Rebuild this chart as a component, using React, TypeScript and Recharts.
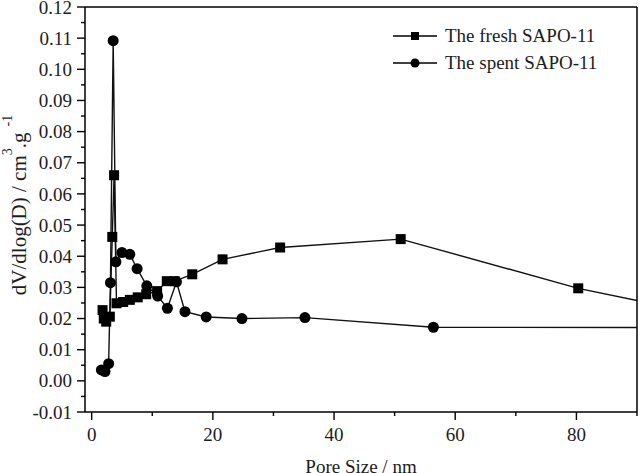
import { LineChart, Line, XAxis, YAxis, ReferenceLine, Legend } from "recharts";

// pore size distribution, fresh vs spent catalyst
const freshSize = [1.8, 2.0, 2.4, 3.0, 3.4, 3.7, 4.1, 5.2, 6.3, 7.6, 9.0, 10.8, 12.4, 13.7, 16.6, 21.6, 31.1, 51.0, 80.3, 100];
const freshVolume = [0.0227, 0.02, 0.019, 0.0206, 0.0462, 0.066, 0.0249, 0.0253, 0.026, 0.0268, 0.0278, 0.0288, 0.032, 0.032, 0.0342, 0.039, 0.0428, 0.0455, 0.0297, 0.0218];

const spentSize = [1.6, 2.2, 2.8, 3.1, 3.55, 4.0, 5.0, 6.3, 7.5, 9.1, 10.9, 12.5, 14.0, 15.4, 18.9, 24.8, 35.2, 56.4, 100];
const spentVolume = [0.0035, 0.003, 0.0055, 0.0315, 0.1092, 0.0382, 0.0412, 0.0406, 0.036, 0.0305, 0.0272, 0.0233, 0.0318, 0.0222, 0.0205, 0.02, 0.0203, 0.0172, 0.0171];

const xMajorTicks = [0, 20, 40, 60, 80];
const xMinorTicks = [10, 30, 50, 70, 90];
const yMajorTicks = [-0.01, 0, 0.01, 0.02, 0.03, 0.04, 0.05, 0.06, 0.07, 0.08, 0.09, 0.1, 0.11, 0.12];
const yMinorTicks = [-0.005, 0.005, 0.015, 0.025, 0.035, 0.045, 0.055, 0.065, 0.075, 0.085, 0.095, 0.105, 0.115];

const seriesNames = ["The fresh SAPO-11", "The spent SAPO-11"];

const freshData = freshSize.map((size, i) => ({ size, volume: freshVolume[i] }));
const spentData = spentSize.map((size, i) => ({ size, volume: spentVolume[i] }));

const FONT = '"Liberation Serif", "Times New Roman", serif';
const TEXT = "#1c1c1c";

const isMajor = (list: number[], v: number) => list.some((m) => Math.abs(m - v) < 1e-9);

function XTick(props: any) {
  const { x, y, payload } = props;
  const major = isMajor(xMajorTicks, payload.value);
  return (
    <g>
      <line x1={x} x2={x} y1={y} y2={y + (major ? 8 : 4)} stroke="#000" strokeWidth={1.4} />
      {major && (
        <text x={x} y={y + 29} textAnchor="middle" fontFamily={FONT} fontSize={19} fill={TEXT}>
          {payload.value}
        </text>
      )}
    </g>
  );
}

function YTick(props: any) {
  const { x, y, payload } = props;
  const major = isMajor(yMajorTicks, payload.value);
  return (
    <g>
      <line x1={x} x2={x - (major ? 8 : 4)} y1={y} y2={y} stroke="#000" strokeWidth={1.4} />
      {major && (
        <text x={x - 13} y={y} dy="0.35em" textAnchor="end" fontFamily={FONT} fontSize={19} fill={TEXT}>
          {payload.value.toFixed(2)}
        </text>
      )}
    </g>
  );
}

function YTitle() {
  return (
    <text transform="translate(26, 205) rotate(-90)" textAnchor="middle" fontFamily={FONT} fontSize={21} fill={TEXT}>
      dV/dlog(D) / cm
      <tspan dy={-14} fontSize={14}>3</tspan>
      <tspan dy={14}>.g</tspan>
      <tspan dy={-14} fontSize={14} dx={6}>-1</tspan>
    </text>
  );
}

function XTitle(props: any) {
  const vb = props.viewBox || { x: 85, width: 552, y: 412 };
  return (
    <text x={vb.x + vb.width / 2} y={473} textAnchor="middle" fontFamily={FONT} fontSize={19} fill={TEXT}>
      Pore Size / nm
    </text>
  );
}

const squareDot = (p: any) => (
  <rect key={`sq-${p.index}`} x={p.cx - 5} y={p.cy - 5} width={10} height={10} fill="#000" />
);
const circleDot = (p: any) => <circle key={`ci-${p.index}`} cx={p.cx} cy={p.cy} r={5.5} fill="#000" />;

function LegendBox() {
  return (
    <div style={{ fontFamily: FONT, fontSize: 19, color: TEXT }}>
      {seriesNames.map((name, i) => (
        <div key={name} style={{ display: "flex", alignItems: "center", height: 27 }}>
          <svg width={52} height={12} style={{ marginRight: 3 }}>
            <line x1={3} x2={47} y1={6} y2={6} stroke="#000" strokeWidth={1.4} />
            {i === 0 ? <rect x={21} y={2} width={8} height={8} fill="#000" /> : <circle cx={25} cy={6} r={4.5} fill="#000" />}
          </svg>
          <span>{name}</span>
        </div>
      ))}
    </div>
  );
}

export default function App() {
  return (
    <div style={{ position: "absolute", left: 0, top: 0, background: "#fff" }}>
      <LineChart width={643} height={473} margin={{ top: 7, right: 6, bottom: 0, left: 0 }}>
        <XAxis
          dataKey="size"
          type="number"
          domain={[-1.1, 90]}
          allowDataOverflow
          ticks={[...xMajorTicks, ...xMinorTicks]}
          interval={0}
          tick={<XTick />}
          tickSize={0}
          tickMargin={0}
          height={61}
          axisLine={{ stroke: "#000", strokeWidth: 1.5 }}
          label={<XTitle />}
        />
        <YAxis
          type="number"
          domain={[-0.01, 0.12]}
          allowDataOverflow
          ticks={[...yMajorTicks, ...yMinorTicks]}
          interval={0}
          tick={<YTick />}
          tickSize={0}
          tickMargin={0}
          width={85}
          axisLine={{ stroke: "#000", strokeWidth: 1.5 }}
          label={<YTitle />}
        />
        <ReferenceLine y={0.12} stroke="#000" strokeWidth={1.5} />
        <ReferenceLine x={90} stroke="#000" strokeWidth={1.5} />
        <Legend
          content={<LegendBox />}
          layout="horizontal"
          align="center"
          verticalAlign="middle"
          wrapperStyle={{ top: 22, left: 390, width: 240 }}
        />
        <Line
          data={freshData}
          dataKey="volume"
          name={seriesNames[0]}
          stroke="#111"
          strokeWidth={1.4}
          dot={squareDot}
          activeDot={false}
          isAnimationActive={false}
        />
        <Line
          data={spentData}
          dataKey="volume"
          name={seriesNames[1]}
          stroke="#111"
          strokeWidth={1.4}
          dot={circleDot}
          activeDot={false}
          isAnimationActive={false}
        />
      </LineChart>
    </div>
  );
}
